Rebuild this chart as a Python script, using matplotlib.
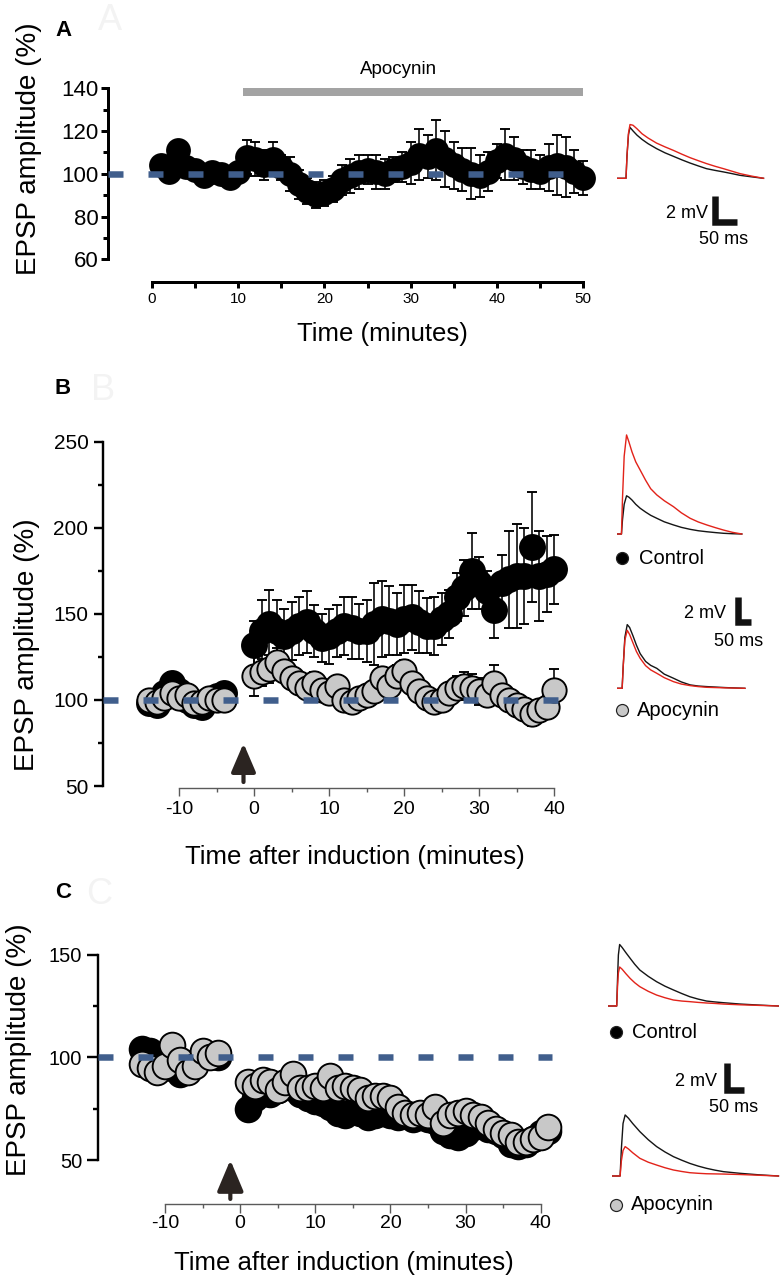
import matplotlib
matplotlib.use("Agg")
import matplotlib.pyplot as plt
from matplotlib.ticker import FixedLocator

plt.rcParams['font.family'] = ['Liberation Sans', 'DejaVu Sans']
plt.rcParams['lines.scale_dashes'] = False
plt.rcParams['axes.unicode_minus'] = False

W, H, DPI = 780, 1280, 100
PX = 72.0 / DPI  # points per pixel

# ======================= DATA =======================
# Panel A: EPSP amplitude (%) during apocynin application
a_time = list(range(1, 51))
a_amp = [104, 101, 111, 103, 102, 99, 101, 100, 98, 101,
         108, 107, 104, 107, 103, 100, 95, 92, 90, 91,
         93, 97, 99, 101, 102, 101, 100, 102, 103, 105,
         109, 108, 111, 107, 104, 102, 100, 99, 101, 106,
         109, 107, 103, 102, 101, 103, 104, 103, 101, 98]
a_err = [3, 3, 4, 3, 3, 3, 3, 3, 3, 4,
         8, 8, 7, 8, 6, 8, 7, 6, 6, 6,
         6, 7, 8, 8, 7, 8, 7, 6, 7, 10,
         12, 10, 14, 13, 11, 10, 12, 10, 9, 8,
         12, 10, 8, 9, 8, 11, 14, 14, 10, 8]
a_drug = [10.5, 50]          # apocynin application (minutes)
a_drug_label = "Apocynin"

# Panel B: LTP, control vs apocynin
b_time = list(range(-14, -3)) + list(range(0, 41))
b_ctrl = [98, 97, 104, 110, 105, 100, 97, 96, 100, 102, 104,
          132, 140, 144, 140, 137, 140, 143, 145, 140, 136,
          137, 140, 143, 142, 140, 140, 144, 147, 146, 144,
          147, 148, 145, 143, 143, 147, 150, 160, 165, 175,
          168, 163, 152, 168, 170, 172, 172, 189, 172, 173, 176]
b_ctrl_err = [4, 4, 5, 6, 5, 4, 4, 4, 5, 4, 5,
              14, 18, 20, 18, 16, 17, 17, 18, 15, 14,
              16, 15, 17, 18, 16, 18, 24, 22, 20, 18,
              20, 19, 18, 16, 17, 15, 14, 14, 16, 22,
              15, 12, 16, 16, 28, 30, 28, 32, 26, 22, 20]
b_apo = [100, 99, 101, 104, 101, 103, 98, 99, 101, 100, 100,
         114, 116, 118, 122, 117, 113, 110, 107, 110, 106,
         104, 108, 100, 99, 101, 103, 105, 113, 108, 114,
         117, 110, 105, 101, 99, 100, 104, 107, 108, 107,
         105, 103, 110, 103, 100, 97, 95, 92, 94, 96, 106]
b_apo_err = [3, 3, 3, 3, 3, 3, 3, 3, 3, 3, 3,
             12, 8, 8, 8, 6, 6, 5, 5, 6, 5,
             5, 6, 5, 5, 5, 5, 6, 6, 6, 6,
             6, 6, 5, 5, 5, 5, 6, 7, 8, 8,
             8, 6, 10, 6, 6, 6, 6, 7, 6, 6, 12]
b_induction = -1.4

# Panel C: LTD, control vs apocynin
c_time = list(range(-13, -2)) + list(range(1, 42))
c_ctrl = [104, 103, 100, 97, 95, 92, 94, 98, 100, 101, 100,
          75, 80, 83, 82, 84, 86, 85, 82, 80, 79,
          78, 76, 73, 72, 74, 73, 71, 72, 73, 72,
          71, 72, 70, 71, 70, 69, 64, 62, 61, 63,
          66, 67, 65, 64, 62, 58, 57, 58, 60, 63, 64]
c_ctrl_err = [3] * 11 + [3] * 41
c_apo = [97, 95, 93, 96, 106, 99, 93, 96, 103, 100, 102,
         88, 86, 89, 88, 84, 88, 92, 85, 85, 86,
         85, 91, 85, 86, 85, 84, 80, 81, 81, 80,
         76, 73, 72, 73, 72, 76, 68, 72, 73, 74,
         72, 71, 68, 65, 63, 62, 59, 59, 60, 61, 66]
c_apo_err = [2] * 11 + [4, 2, 2, 2, 2, 2, 4, 3, 2, 2,
                        2, 2, 2, 2, 2, 2, 2, 2, 2, 2,
                        2, 2, 2, 2, 2, 2, 2, 2, 4, 4,
                        2, 2, 2, 2, 2, 2, 2, 2, 2, 2, 2]
c_induction = -1.3

# Example EPSP traces (time in ms, voltage in mV above baseline)
trA_t = [0, 18, 20, 23, 26, 32, 40, 50, 62, 79, 96, 113, 130, 146, 163,
         179, 196, 213, 230, 246, 270, 293]
trA_black = [0, 0, 1.6, 3.1, 3.6, 3.35, 3.05, 2.75, 2.45, 2.1, 1.8, 1.55, 1.3,
             1.08, 0.87, 0.68, 0.56, 0.45, 0.33, 0.21, 0.1, 0]
trA_red = [0, 0, 1.6, 3.2, 3.8, 3.75, 3.5, 3.15, 2.85, 2.49, 2.22, 1.97, 1.7,
           1.46, 1.24, 1.04, 0.85, 0.68, 0.5, 0.33, 0.15, 0]

trB1_t = [0, 14, 17, 22, 29, 36, 45, 56, 69, 85, 100, 118, 140, 167, 190,
          216, 240, 265, 290, 314, 340, 368]
trB1_black = [0, 0, 1.0, 2.1, 2.7, 2.6, 2.4, 2.1, 1.82, 1.55, 1.32, 1.11, 0.86,
              0.64, 0.47, 0.33, 0.23, 0.16, 0.1, 0.05, 0.02, 0]
trB1_red = [0, 0, 2.5, 5.5, 7.0, 6.5, 5.8, 5.1, 4.52, 3.8, 3.2, 2.76, 2.35,
            1.93, 1.5, 1.11, 0.85, 0.64, 0.45, 0.28, 0.12, 0]
trB2_t = [0, 16, 19, 24, 31, 38, 48, 58, 69, 85, 100, 118, 140, 167, 190,
          216, 240, 265, 320, 377]
trB2_black = [0, 0, 1.5, 3.6, 4.5, 4.3, 3.7, 3.05, 2.45, 1.9, 1.62, 1.41, 1.0,
              0.71, 0.45, 0.24, 0.16, 0.12, 0.05, 0]
trB2_red = [0, 0, 1.5, 3.4, 4.1, 3.8, 3.2, 2.6, 2.12, 1.6, 1.3, 1.06, 0.75,
            0.47, 0.3, 0.19, 0.12, 0.07, 0.03, 0]

trC1_t = [0, 20, 22, 24, 27, 33, 42, 52, 63, 75, 95, 115, 135, 155, 175,
          194, 214, 234, 254, 274, 314, 360, 405]
trC1_black = [0, 0, 1.8, 3.4, 4.1, 3.9, 3.55, 3.18, 2.78, 2.4, 1.98, 1.62, 1.32,
              1.07, 0.83, 0.62, 0.46, 0.33, 0.27, 0.22, 0.13, 0.06, 0]
trC1_red = [0, 0, 1.3, 2.2, 2.6, 2.45, 2.15, 1.84, 1.55, 1.29, 0.98, 0.73, 0.55,
            0.4, 0.33, 0.29, 0.24, 0.2, 0.17, 0.13, 0.08, 0.04, 0]
trC2_t = [0, 20, 23, 27, 32, 40, 50, 67, 87, 107, 127, 147, 167, 186, 206,
          226, 246, 266, 305, 350, 397]
trC2_black = [0, 0, 1.8, 3.5, 4.07, 3.85, 3.5, 2.96, 2.42, 1.96, 1.6, 1.29, 1.05,
              0.84, 0.66, 0.51, 0.39, 0.29, 0.18, 0.08, 0]
trC2_red = [0, 0, 1.0, 1.7, 1.96, 1.8, 1.55, 1.18, 0.92, 0.73, 0.55, 0.4, 0.3,
            0.22, 0.18, 0.15, 0.14, 0.13, 0.1, 0.05, 0]

legend_labels = ["Control", "Apocynin"]
ylabel = "EPSP amplitude (%)"
xlabel_a = "Time (minutes)"
xlabel_bc = "Time after induction (minutes)"

# ======================= FIGURE =======================
BLUE = '#405e8c'
GRAY_FILL = '#c8c8c8'
RED = '#e2231a'
TRACE_BLACK = '#151515'
ARROW = '#2b2421'

fig = plt.figure(figsize=(W / DPI, H / DPI), dpi=DPI)
fig.patch.set_facecolor('white')


def px_axes(left, top, right, bottom, **kw):
    return fig.add_axes([left / W, 1 - bottom / H, (right - left) / W,
                         (bottom - top) / H], **kw)


def style_panel(ax, xmaj, xmin_, ymaj, ymin_, xoff_px, xcolor, xlw, ylw,
                xfs, yfs, xlen, xminlen, ylen, yminlen, xpad, ypad):
    for s in ('top', 'right'):
        ax.spines[s].set_visible(False)
    ax.patch.set_alpha(0)
    ax.spines['left'].set_bounds(ymaj[0], ymaj[-1])
    ax.spines['bottom'].set_bounds(xmaj[0], xmaj[-1])
    ax.spines['bottom'].set_position(('outward', xoff_px * PX))
    ax.spines['left'].set_linewidth(ylw * PX)
    ax.spines['bottom'].set_linewidth(xlw * PX)
    ax.spines['bottom'].set_color(xcolor)
    ax.xaxis.set_major_locator(FixedLocator(xmaj))
    ax.xaxis.set_minor_locator(FixedLocator(xmin_))
    ax.yaxis.set_major_locator(FixedLocator(ymaj))
    ax.yaxis.set_minor_locator(FixedLocator(ymin_))
    ax.tick_params(axis='x', which='major', direction='out', length=xlen * PX,
                   width=xlw * PX, color=xcolor, labelsize=xfs, pad=xpad)
    ax.tick_params(axis='x', which='minor', direction='out', length=xminlen * PX,
                   width=xlw * PX, color=xcolor)
    ax.tick_params(axis='y', which='major', direction='out', length=ylen * PX,
                   width=ylw * PX, labelsize=yfs, pad=ypad)
    ax.tick_params(axis='y', which='minor', direction='out', length=yminlen * PX,
                   width=ylw * PX)
    ax.set_xticklabels([str(v) for v in xmaj])
    ax.set_yticklabels([str(v) for v in ymaj])


def set_labels(ax, xl, xc, yl, yc, fs_x, fs_y):
    ax.set_xlabel(xl, fontsize=fs_x)
    ax.xaxis.set_label_coords(xc[0] / W, 1 - xc[1] / H, transform=fig.transFigure)
    ax.xaxis.label.set_va('center')
    ax.set_ylabel(yl, fontsize=fs_y)
    ax.yaxis.set_label_coords(yc[0] / W, 1 - yc[1] / H, transform=fig.transFigure)
    ax.yaxis.label.set_va('center')
    ax.yaxis.label.set_ha('center')


def baseline(ax, x0, x1):
    ax.plot([x0, x1], [100, 100], color=BLUE, lw=6.5 * PX,
            dashes=(15 * PX, 25 * PX), zorder=10, clip_on=False)


def series(ax, t, y, e, face, ms, zorder):
    ax.errorbar(t, y, yerr=e, fmt='o', ms=ms, mfc=face, mec='black',
                mew=1.9 * PX, ecolor='black', elinewidth=1.6 * PX,
                capsize=5 * PX, capthick=1.6 * PX, zorder=zorder, clip_on=False)


# ---------------- Panel A ----------------
axA = px_axes(108, 60, 600, 259.3)
a_xl = ((108 - 152) / 8.62, (600 - 152) / 8.62)
axA.set_xlim(*a_xl)
axA.set_ylim(60, 140 + (88.3 - 60) * 0.468)
style_panel(axA, [0, 10, 20, 30, 40, 50], [5, 15, 25, 35, 45],
            [60, 80, 100, 120, 140], [70, 90, 110, 130],
            22.7, 'black', 3, 3, 11, 16, 6, 6, 7, 5, 3, 1.5)
series(axA, a_time, a_amp, a_err, 'black', 16.5, 3)
baseline(axA, a_xl[0], a_drug[1])
axA.plot(a_drug, [138.2, 138.2], color='#a3a3a3', lw=8 * PX,
         solid_capstyle='butt', clip_on=False)
axA.text(sum(a_drug) / 2 - 1.7, 148.6, a_drug_label, ha='center', va='center',
         fontsize=13.5)
set_labels(axA, xlabel_a, (382, 334), ylabel, (29, 148.5), 18.5, 20)

# ---------------- Panel B ----------------
axB = px_axes(103, 430, 565, 786)
b_xl = ((103 - 254) / 7.5, (565 - 254) / 7.5)
axB.set_xlim(*b_xl)
axB.set_ylim(50, 250 + (441.7 - 430) * 0.5814)
style_panel(axB, [-10, 0, 10, 20, 30, 40], [-5, 5, 15, 25, 35],
            [50, 100, 150, 200, 250], [75, 125, 175, 225],
            2, '#5a5a5a', 1.4, 2.4, 14, 15, 8, 4, 9, 5, 3.5, 4)
series(axB, b_time, b_ctrl, b_ctrl_err, 'black', 18, 3)
series(axB, b_time, b_apo, b_apo_err, GRAY_FILL, 17.5, 4)
baseline(axB, b_xl[0], 40.5)
axB.annotate('', xy=(b_induction, 74.8), xytext=(b_induction, 52.3),
             annotation_clip=False,
             arrowprops=dict(arrowstyle='-|>,head_length=1.75,head_width=0.75',
                             lw=3.0, color=ARROW, shrinkA=0, shrinkB=0))
set_labels(axB, xlabel_bc, (355, 857), ylabel, (27, 645), 18.5, 20)

# ---------------- Panel C ----------------
axC = px_axes(98, 940, 565, 1160)
c_xl = ((98 - 240.1) / 7.514, (565 - 240.1) / 7.514)
axC.set_xlim(*c_xl)
axC.set_ylim(50, 150 + (955 - 940) * 0.4878)
style_panel(axC, [-10, 0, 10, 20, 30, 40], [-5, 5, 15, 25, 35],
            [50, 100, 150], [75, 125],
            44, '#5a5a5a', 1.4, 2.4, 14, 14.5, 8.5, 4, 11, 5, 2, 3.5)
series(axC, c_time, c_ctrl, c_ctrl_err, 'black', 18.5, 3)
series(axC, c_time, c_apo, c_apo_err, GRAY_FILL, 18.5, 4)
baseline(axC, c_xl[0], 41.5)
axC.annotate('', xy=(c_induction, 50.0), xytext=(c_induction, 31.0),
             annotation_clip=False,
             arrowprops=dict(arrowstyle='-|>,head_length=1.9,head_width=0.8',
                             lw=3.0, color=ARROW, shrinkA=0, shrinkB=0))
set_labels(axC, xlabel_bc, (344, 1263), ylabel, (19, 1050), 18.5, 20)


# ---------------- Traces ----------------
def trace_axes(x0, base, w, h, ppms, ppmv):
    ax = px_axes(x0, base - h, x0 + w, base + 5)
    ax.set_xlim(0, w / ppms)
    ax.set_ylim(-5 / ppmv, h / ppmv)
    ax.axis('off')
    return ax


def draw_trace(ax, t, black, red):
    ax.plot(t, black, color=TRACE_BLACK, lw=1.4 * PX, solid_joinstyle='round')
    ax.plot(t, red, color=RED, lw=1.4 * PX, solid_joinstyle='round')


tA = trace_axes(617, 178.3, 160, 65, 0.5, 14.15)
draw_trace(tA, trA_t, trA_black, trA_red)
tB1 = trace_axes(616.7, 534, 150, 110, 0.34, 14.15)
draw_trace(tB1, trB1_t, trB1_black, trB1_red)
tB2 = trace_axes(616.7, 688.3, 150, 75, 0.34, 14.15)
draw_trace(tB2, trB2_t, trB2_black, trB2_red)
tC1 = trace_axes(608.3, 1006, 171, 75, 0.42, 15)
draw_trace(tC1, trC1_t, trC1_black, trC1_red)
tC2 = trace_axes(611.7, 1176, 168, 75, 0.42, 15)
draw_trace(tC2, trC2_t, trC2_black, trC2_red)

# ---------------- Overlay (scale bars, legends, letters) ----------------
ov = fig.add_axes([0, 0, 1, 1], zorder=20)
ov.set_xlim(0, W)
ov.set_ylim(H, 0)
ov.axis('off')
ov.patch.set_alpha(0)

BAR_LW = 6.5


def scale_bar(xc, yb, ppms, ppmv, mv_text_pos, ms_text_pos):
    top = yb + BAR_LW / 2 - 2 * ppmv
    right = xc - BAR_LW / 2 + 50 * ppms
    ov.plot([xc, xc, right], [top, yb, yb], color='#111111', lw=BAR_LW * PX,
            solid_joinstyle='miter', solid_capstyle='butt')
    ov.text(mv_text_pos[0], mv_text_pos[1], '2 mV', ha='right', va='center', fontsize=13)
    ov.text(ms_text_pos[0], ms_text_pos[1], '50 ms', ha='center', va='center', fontsize=13)


scale_bar(715, 221.5, 0.5, 14.15, (708, 213), (724, 240))
scale_bar(737.5, 621.7, 0.34, 14.15, (726, 614), (739, 641))
scale_bar(726.5, 1090, 0.42, 15, (717, 1081), (734, 1107))


def legend_entry(x, y, face, label, tx):
    ov.scatter([x], [y], s=(12 * PX) ** 2, c=face, edgecolors='#222222',
               linewidths=1.2 * PX)
    ov.text(tx, y, label, ha='left', va='center', fontsize=14.5)


legend_entry(621.7, 558, 'black', legend_labels[0], 639)
legend_entry(621.7, 710, GRAY_FILL, legend_labels[1], 637)
legend_entry(616, 1032, 'black', legend_labels[0], 632)
legend_entry(616, 1205, GRAY_FILL, legend_labels[1], 630.5)

for letter, (x, y), (gx, gy) in [('A', (64, 30), (110, 20)),
                                  ('B', (63, 388), (103, 390)),
                                  ('C', (63, 892), (99, 895))]:
    ov.text(gx, gy, letter, ha='center', va='center', fontsize=26, color='#f3f3f3')
    ov.text(x, y, letter, ha='center', va='center', fontsize=16, fontweight='bold')

fig.savefig('out.png', dpi=DPI, facecolor='white')
